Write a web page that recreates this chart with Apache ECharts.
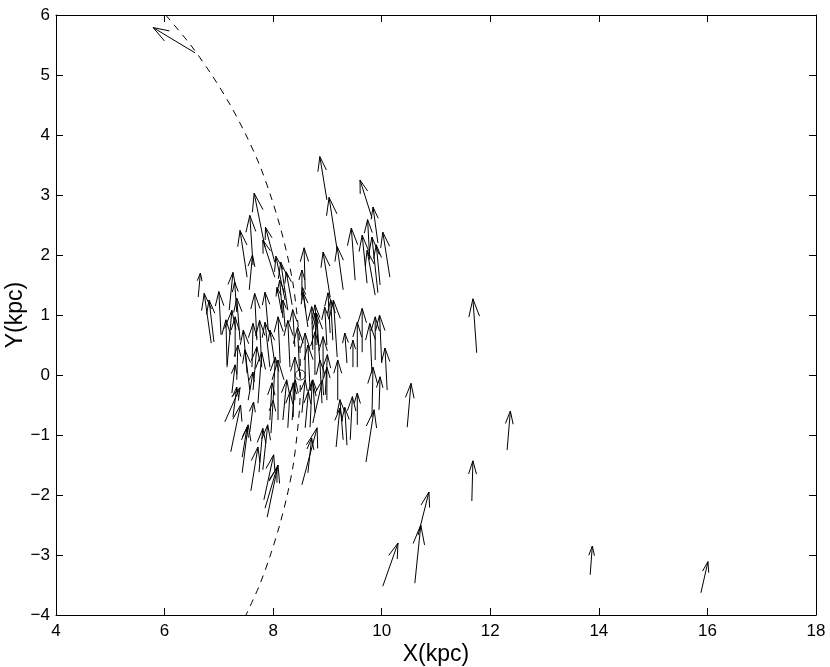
<!DOCTYPE html>
<html>
<head>
<meta charset="utf-8">
<title>quiver</title>
<script src="https://cdn.jsdelivr.net/npm/echarts@6.0.0/dist/echarts.min.js"></script>
<style>
  html, body { margin: 0; padding: 0; background: #fff; }
  #main { width: 830px; height: 667px; }
</style>
</head>
<body>
<div id="main"></div>
<script>
// star positions (kpc)
var posX = [
  6.56, 7.85, 7.63, 7.52, 8.03, 7.56, 7.19, 6.62, 6.86, 6.91,
  7.04, 7.39, 7.15, 7.15, 7.70, 7.79, 7.94, 7.52, 7.33, 7.57,
  7.63, 7.72, 8.00, 8.09, 7.24, 7.26, 7.22, 7.57, 7.94, 8.18,
  8.13, 8.31, 8.22, 8.27, 8.18, 8.35, 8.99, 9.18, 9.29, 9.82,
  9.93, 9.78, 9.51, 10.15, 9.73, 9.93, 8.59, 9.05, 8.53, 9.88,
  9.97, 8.64, 9.05, 9.18, 8.99, 8.40, 8.73, 8.86, 9.64, 10.00,
  9.88, 9.55, 9.82, 9.36, 9.47, 10.10, 9.82, 9.95, 8.49, 8.59,
  8.77, 8.92, 8.90, 8.99, 9.19, 8.77, 8.37, 9.29, 9.42, 9.36,
  9.16, 9.55, 9.71, 7.11, 7.43, 7.74, 7.81, 7.59, 7.83, 7.89,
  7.85, 7.96, 8.53, 8.64, 8.27, 8.59, 8.03, 7.91, 11.75, 10.47,
  12.31, 11.66, 10.67, 10.61, 10.02, 13.84, 15.88,
  7.33, 7.30, 7.61, 8.03, 8.16, 8.22, 8.40, 7.54, 8.35, 8.53,
  8.68, 8.73, 7.43, 8.60, 8.79, 8.83, 9.10, 8.68, 8.96
];
var posY = [
  5.37, 2.13, 1.83, 1.63, 1.88, 1.42, 1.08, 1.30, 0.53, 0.55,
  0.67, 0.58, 0.13, 0.17, 0.58, 0.13, 0.13, 0.03, -0.08, -0.25,
  -0.25, -0.47, -0.42, -0.75, -0.30, -0.70, -1.28, -0.95, -0.75, -0.75,
  0.20, 0.13, 1.25, 1.08, 0.95, 1.17, 2.92, 2.08, 1.42, 2.62,
  2.20, 1.92, 1.58, 1.63, 1.53, 1.37, 1.42, 1.30, 1.25, 1.33,
  1.50, 0.80, 0.70, 0.30, 0.50, 0.47, 0.42, 0.20, 0.38, 0.20,
  0.25, 0.13, 0.03, 0.20, 0.13, -0.25, -0.70, -0.58, -0.03, -0.08,
  0.00, -0.08, -0.47, -0.42, -0.42, -0.63, -0.70, -1.08, -1.08, -1.17,
  -1.20, -0.83, -1.45, -0.78, -1.63, -1.62, -1.58, -1.93, -2.08, -2.37,
  -2.22, -0.97, -1.83, -1.63, -0.88, -0.88, 1.63, 0.75, 0.37, -0.87,
  -1.25, -2.10, -2.67, -3.47, -3.52, -3.33, -3.63,
  1.05, 0.30, 0.13, 0.20, 1.03, 0.80, -0.42, -0.42, -0.75, -0.63,
  -0.87, -0.80, -1.37, 1.08, 0.50, 0.50, 0.58, -0.25, -0.33
];
// velocity arrows (kpc units on the plot)
var velU = [
  -0.77, -0.20, -0.06, -0.13, -0.17, 0.06, 0.07, 0.04, -0.13, -0.09,
  -0.04, -0.06, 0.09, -0.02, -0.04, -0.04, -0.09, -0.07, 0.02, -0.09,
  0.07, 0.07, 0.04, 0.00, 0.06, 0.07, 0.18, 0.07, 0.04, 0.07,
  -0.04, -0.04, -0.17, -0.13, -0.06, -0.11, -0.13, -0.15, -0.11, -0.22,
  -0.09, -0.04, -0.07, -0.13, -0.09, -0.11, -0.02, -0.13, 0.00, -0.15,
  -0.07, -0.09, -0.04, -0.07, -0.04, -0.04, -0.02, -0.06, 0.00, -0.04,
  0.00, 0.00, -0.04, -0.04, 0.00, -0.04, 0.02, 0.02, -0.04, 0.00,
  0.00, 0.00, -0.04, 0.00, 0.00, -0.04, 0.00, -0.06, 0.04, -0.04,
  0.07, 0.00, 0.15, 0.28, 0.11, 0.07, 0.09, 0.13, 0.18, 0.20,
  0.22, 0.04, 0.28, 0.07, 0.04, 0.06, -0.22, -0.06, -0.07, 0.07,
  0.06, 0.02, 0.20, 0.11, 0.28, 0.04, 0.13,
  -0.04, 0.00, 0.02, -0.09, -0.09, -0.04, 0.00, 0.09, 0.06, 0.06,
  0.04, 0.18, 0.09, -0.06, -0.02, -0.06, -0.04, -0.04, 0.04
];
var velV = [
  0.42, 0.90, 0.83, 0.78, 0.58, 0.58, 0.63, 0.40, 0.83, 0.70,
  0.72, 0.70, 0.95, 0.75, 0.78, 0.78, 0.75, 0.72, 0.58, 0.67,
  0.72, 0.85, 0.72, 1.00, 0.47, 0.50, 0.78, 0.50, 0.62, 0.67,
  0.77, 0.78, 0.73, 0.80, 0.63, 0.55, 0.72, 0.88, 0.72, 0.63,
  0.60, 0.67, 0.87, 0.75, 0.80, 0.93, 0.70, 0.75, 0.50, 0.75,
  0.67, 0.58, 0.67, 0.95, 0.63, 0.62, 0.72, 0.83, 0.73, 0.80,
  0.72, 0.75, 0.83, 0.50, 0.45, 0.70, 0.83, 0.55, 0.83, 0.78,
  0.72, 0.72, 0.72, 0.55, 0.67, 0.55, 0.57, 0.67, 0.72, 0.63,
  0.65, 0.53, 0.87, 0.57, 0.80, 0.73, 0.75, 0.73, 0.75, 0.87,
  0.67, 0.55, 0.95, 0.58, 0.60, 0.60, 0.62, 0.63, 0.90, 0.73,
  0.65, 0.67, 0.72, 0.97, 0.72, 0.48, 0.52,
  0.50, 0.67, 0.73, 0.55, 0.43, 0.45, 0.72, 0.47, 0.67, 0.55,
  0.78, 0.72, 0.50, 0.38, 0.53, 0.67, 0.67, 0.75, 0.67
];
// dashed solar circle
var arcY = [6, 5.5, 5, 4.5, 4, 3.5, 3, 2.5, 2, 1.5, 1, 0.5, 0,
  -0.5, -1, -1.5, -2, -2.5, -3, -3.5, -4];
var arcX = [6.02, 6.48, 6.87, 7.21, 7.50, 7.75, 7.95, 8.12, 8.26, 8.37, 8.44, 8.49, 8.50,
  8.49, 8.44, 8.37, 8.26, 8.12, 7.95, 7.75, 7.50];
var sunPos = [8.5, 0];

var font = 'Liberation Sans, Helvetica, Arial, sans-serif';

var arrows = posX.map(function (x, i) {
  return [x, posY[i], velU[i], velV[i]];
});
var arc = arcX.map(function (x, i) {
  return [x, arcY[i]];
});

// matlab style quiver head
function renderArrow(params, api) {
  var x = api.value(0), y = api.value(1), u = api.value(2), v = api.value(3);
  var a = 0.33, b = 0.33;
  var tail = api.coord([x, y]);
  var tip = api.coord([x + u, y + v]);
  var h1 = api.coord([x + u - a * (u + b * v), y + v - a * (v - b * u)]);
  var h2 = api.coord([x + u - a * (u - b * v), y + v - a * (v + b * u)]);
  var st = { stroke: '#000', lineWidth: 1, fill: null };
  return {
    type: 'group',
    children: [
      { type: 'polyline', shape: { points: [tail, tip] }, style: st },
      { type: 'polyline', shape: { points: [h1, tip, h2] }, style: st }
    ]
  };
}

function axisBase(extra) {
  var o = {
    type: 'value',
    axisLine: { show: true, onZero: false, lineStyle: { color: '#000', width: 1 } },
    axisTick: { show: true, inside: true, length: 7, lineStyle: { color: '#000' } },
    splitLine: { show: false },
    minorTick: { show: false }
  };
  for (var k in extra) o[k] = extra[k];
  return o;
}

var chart = echarts.init(document.getElementById('main'));
chart.setOption({
  animation: false,
  backgroundColor: '#fff',
  grid: {
    left: 56, right: 14, top: 15, bottom: 52,
    containLabel: false, outerBoundsMode: 'none'
  },
  xAxis: [
    axisBase({
      position: 'bottom', min: 4, max: 18, interval: 2,
      name: 'X(kpc)', nameLocation: 'middle', nameGap: 28, nameMoveOverlap: false,
      nameTextStyle: { fontSize: 23, color: '#000', fontFamily: font },
      axisLabel: { color: '#000', fontSize: 17, margin: 8, fontFamily: font }
    }),
    axisBase({
      position: 'top', min: 4, max: 18, interval: 2,
      axisLabel: { show: false }
    })
  ],
  yAxis: [
    axisBase({
      position: 'left', min: -4, max: 6, interval: 1,
      name: 'Y(kpc)', nameLocation: 'middle', nameGap: 29, nameMoveOverlap: false,
      nameTextStyle: { fontSize: 23, color: '#000', fontFamily: font },
      axisLabel: {
        color: '#000', fontSize: 17, margin: 6, fontFamily: font,
        formatter: function (v) { return String(v).replace('-', '\u2212'); }
      }
    }),
    axisBase({
      position: 'right', min: -4, max: 6, interval: 1,
      axisLabel: { show: false }
    })
  ],
  series: [
    {
      name: 'circle',
      type: 'line',
      data: arc,
      smooth: 0.3,
      showSymbol: false,
      silent: true,
      lineStyle: { color: '#000', width: 1, type: [7, 6] }
    },
    {
      name: 'sun',
      type: 'scatter',
      data: [sunPos],
      symbol: 'circle',
      symbolSize: 10,
      silent: true,
      itemStyle: { color: 'rgba(0,0,0,0)', borderColor: '#000', borderWidth: 1 }
    },
    {
      name: 'velocity',
      type: 'custom',
      data: arrows,
      renderItem: renderArrow,
      silent: true
    }
  ]
});
</script>
</body>
</html>
